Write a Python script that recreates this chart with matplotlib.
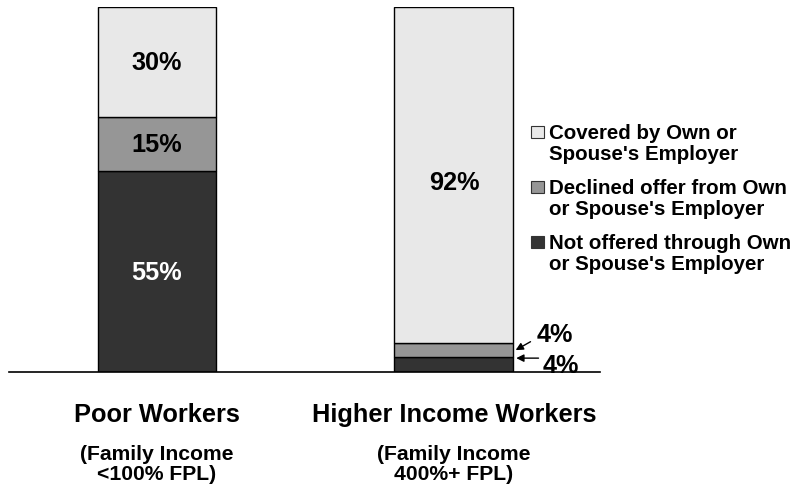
import matplotlib
matplotlib.use('Agg')
import matplotlib.pyplot as plt
from matplotlib.patches import Rectangle

plt.rcParams['font.family'] = ['Liberation Sans', 'DejaVu Sans']
plt.rcParams['font.weight'] = 'bold'

# data
groups = ['Poor Workers', 'Higher Income Workers']
subtitles = [['(Family Income', '<100% FPL)'], ['(Family Income', '400%+ FPL)']]
not_offered = [55, 4]
declined = [15, 4]
covered = [30, 92]
legend_labels = [["Covered by Own or", "Spouse's Employer"],
                 ["Declined offer from Own", "or Spouse's Employer"],
                 ["Not offered through Own", "or Spouse's Employer"]]

c_dark = '#333333'
c_mid = '#969696'
c_light = '#e8e8e8'

W, H = 795, 489
fig = plt.figure(figsize=(W / 100, H / 100), dpi=100)
ax = fig.add_axes([9 / W, (H - 373) / H, 591 / W, 365 / H])

x = [0, 1]
bw = 0.40
bottom2 = [a + b for a, b in zip(not_offered, declined)]
ax.bar(x, not_offered, bw, color=c_dark, edgecolor='black', lw=1)
ax.bar(x, declined, bw, bottom=not_offered, color=c_mid, edgecolor='black', lw=1)
ax.bar(x, covered, bw, bottom=bottom2, color=c_light, edgecolor='black', lw=1)

ax.set_xlim(-0.498, 1.492)
ax.set_ylim(0, 100)
for s in ['top', 'right', 'left']:
    ax.spines[s].set_visible(False)
ax.spines['bottom'].set_linewidth(1.2)
ax.spines['bottom'].set_zorder(5)
ax.set_xticks([])
ax.set_yticks([])

# labels inside first bar
fs = 18.2
ax.text(0, not_offered[0] / 2, f'{not_offered[0]}%', ha='center', va='center',
        fontsize=fs, color='white')
ax.text(0, not_offered[0] + declined[0] / 2, f'{declined[0]}%', ha='center', va='center',
        fontsize=fs, color='black')
ax.text(0, bottom2[0] + covered[0] / 2, f'{covered[0]}%', ha='center', va='center',
        fontsize=fs, color='black')
ax.text(1, 52, f'{covered[1]}%', ha='center', va='center', fontsize=fs, color='black')

# small segments of second bar with arrows
edge = 1 + bw / 2
ap = dict(arrowstyle='-|>', color='black', lw=1, mutation_scale=11,
          shrinkA=0, shrinkB=0)
ax.annotate('', xy=(edge + 0.008, not_offered[1] + declined[1] / 2),
            xytext=(edge + 0.058, not_offered[1] + declined[1] + 0.3), arrowprops=ap)
ax.annotate('', xy=(edge + 0.01, not_offered[1] - 0.2),
            xytext=(edge + 0.085, not_offered[1] - 0.2), arrowprops=ap)
ax.text(1.34, 10.4, f'{declined[1]}%', ha='center', va='center', fontsize=fs)
ax.text(1.36, 1.8, f'{not_offered[1]}%', ha='center', va='center', fontsize=fs)

# category labels
tr = ax.get_xaxis_transform()
for i, g in enumerate(groups):
    ax.text(x[i], (373 - 422) / 365, g, transform=tr, ha='center', va='baseline',
            fontsize=18.3, clip_on=False)
    for j, line in enumerate(subtitles[i]):
        ax.text(x[i], (373 - (460 + 20 * j)) / 365, line, transform=tr, ha='center',
                va='baseline', fontsize=15.2, clip_on=False)

# legend
leg_colors = [c_light, c_mid, c_dark]
baselines = [139, 194, 249]
for col, lines, yb in zip(leg_colors, legend_labels, baselines):
    fig.patches.append(Rectangle((531 / W, 1 - yb / H), 12.5 / W, 12.5 / H,
                                 transform=fig.transFigure, facecolor=col,
                                 edgecolor='#333333', lw=0.8))
    for j, line in enumerate(lines):
        fig.text(549 / W, 1 - (yb + 21 * j) / H, line, ha='left', va='baseline',
                 fontsize=14.8)

fig.savefig('out.png', dpi=100)
